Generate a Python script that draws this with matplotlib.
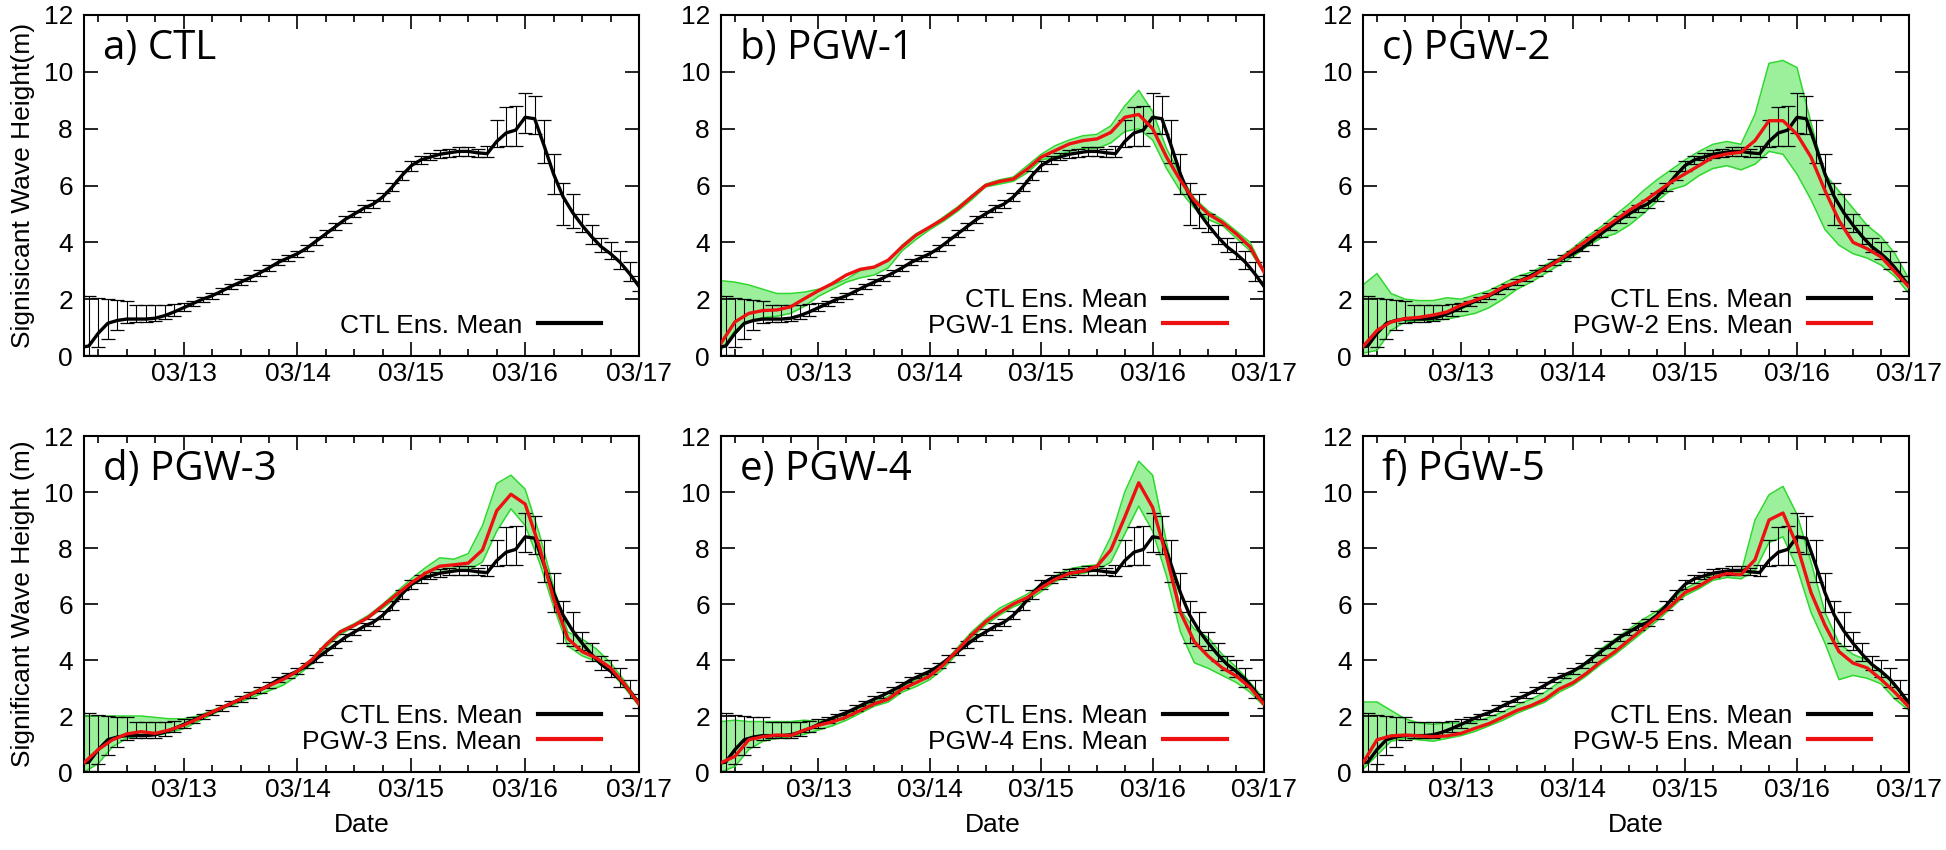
import matplotlib
matplotlib.use("Agg")
import matplotlib.pyplot as plt
from matplotlib.lines import Line2D
import numpy as np

# ---------------- data ----------------
# hours since 03/12 00:00
ctl_hours = list(range(2, 121, 2))
ctl_mean = [0.30, 0.35, 0.80, 1.15, 1.25, 1.30, 1.30, 1.30, 1.33, 1.42,
            1.55, 1.70, 1.85, 2.00, 2.12, 2.28, 2.45, 2.60, 2.75, 2.92,
            3.10, 3.30, 3.45, 3.60, 3.80, 4.05, 4.30, 4.55, 4.80, 5.00,
            5.20, 5.35, 5.60, 5.95, 6.35, 6.70, 6.90, 7.00, 7.10, 7.15,
            7.20, 7.20, 7.15, 7.12, 7.55, 7.85, 7.95, 8.40, 8.35, 7.40,
            6.40, 5.60, 5.05, 4.60, 4.20, 3.85, 3.60, 3.30, 2.90, 2.45]
ctl_low = [0.00, 0.05, 0.30, 0.60, 0.90, 1.15, 1.20, 1.20, 1.22, 1.30,
           1.42, 1.58, 1.75, 1.90, 2.02, 2.18, 2.35, 2.50, 2.65, 2.82,
           3.00, 3.20, 3.35, 3.50, 3.70, 3.92, 4.18, 4.42, 4.68, 4.88,
           5.08, 5.22, 5.45, 5.80, 6.18, 6.52, 6.75, 6.88, 6.98, 7.02,
           7.05, 7.05, 7.02, 7.00, 7.35, 7.40, 7.40, 7.85, 7.80, 6.80,
           5.70, 4.60, 4.50, 4.35, 3.95, 3.65, 3.40, 3.05, 2.65, 2.30]
ctl_high = [2.10, 2.10, 2.05, 2.00, 1.98, 1.95, 1.80, 1.80, 1.80, 1.80,
            1.82, 1.88, 1.95, 2.08, 2.22, 2.38, 2.55, 2.70, 2.85, 3.02,
            3.20, 3.40, 3.55, 3.70, 3.90, 4.18, 4.42, 4.68, 4.92, 5.12,
            5.32, 5.48, 5.75, 6.10, 6.50, 6.85, 7.05, 7.15, 7.25, 7.30,
            7.35, 7.35, 7.30, 7.40, 8.30, 8.75, 8.80, 9.25, 9.15, 8.30,
            7.10, 6.10, 5.70, 5.00, 4.60, 4.15, 4.00, 3.70, 3.30, 2.80]

pgw_hours = list(range(3, 121, 3))
pgw1_mean = [0.45, 1.20, 1.50, 1.60, 1.62, 1.73, 2.02, 2.30, 2.55, 2.85,
             3.05, 3.13, 3.37, 3.84, 4.25, 4.54, 4.83, 5.18, 5.60, 6.00,
             6.14, 6.23, 6.58, 7.00, 7.23, 7.46, 7.58, 7.64, 7.87, 8.40,
             8.50, 8.00, 7.00, 6.18, 5.47, 5.00, 4.70, 4.30, 3.84, 2.96]
pgw1_low = [0.20, 0.90, 1.20, 1.35, 1.40, 1.50, 1.75, 2.10, 2.35, 2.60,
            2.75, 2.85, 3.10, 3.70, 4.10, 4.45, 4.75, 5.10, 5.50, 5.95,
            6.05, 6.15, 6.45, 6.90, 7.00, 7.20, 7.30, 7.30, 7.50, 7.90,
            8.00, 7.60, 6.60, 5.80, 5.20, 4.80, 4.60, 4.15, 3.70, 2.90]
pgw1_high = [2.65, 2.60, 2.50, 2.35, 2.20, 2.20, 2.25, 2.35, 2.50, 2.70,
             3.00, 3.10, 3.35, 3.90, 4.30, 4.55, 4.90, 5.25, 5.65, 6.05,
             6.20, 6.30, 6.70, 7.10, 7.40, 7.60, 7.75, 7.80, 8.10, 8.80,
             9.35, 8.60, 7.30, 6.35, 5.55, 5.10, 4.80, 4.40, 4.00, 3.00]

pgw2_mean = [0.33, 0.90, 1.20, 1.32, 1.36, 1.44, 1.55, 1.79, 1.96, 2.14,
             2.43, 2.60, 2.78, 3.08, 3.37, 3.72, 4.07, 4.42, 4.77, 5.12,
             5.42, 5.77, 6.12, 6.41, 6.70, 7.00, 7.11, 7.17, 7.58, 8.28,
             8.28, 7.80, 7.00, 5.82, 4.77, 4.00, 3.78, 3.49, 2.96, 2.43]
pgw2_low = [0.10, 0.20, 0.90, 1.20, 1.25, 1.25, 1.30, 1.40, 1.50, 1.70,
            2.00, 2.35, 2.60, 2.90, 3.20, 3.50, 3.85, 4.15, 4.30, 4.60,
            5.00, 5.45, 5.85, 6.00, 6.35, 6.60, 6.70, 6.55, 6.75, 7.20,
            7.10, 6.40, 5.50, 4.45, 3.90, 3.60, 3.45, 3.20, 2.80, 2.20]
pgw2_high = [2.50, 2.90, 2.20, 2.00, 1.95, 1.95, 2.05, 2.00, 2.15, 2.30,
             2.55, 2.80, 2.95, 3.20, 3.45, 3.80, 4.20, 4.55, 4.95, 5.35,
             5.80, 6.20, 6.55, 6.90, 7.20, 7.45, 7.55, 7.45, 8.50, 10.30,
             10.40, 10.15, 8.20, 6.40, 5.80, 5.20, 4.60, 4.20, 3.60, 2.70]

pgw3_mean = [0.33, 0.80, 1.15, 1.36, 1.44, 1.38, 1.50, 1.67, 1.90, 2.14,
             2.37, 2.60, 2.84, 3.08, 3.31, 3.60, 4.00, 4.54, 5.00, 5.24,
             5.53, 5.94, 6.35, 6.76, 7.10, 7.35, 7.40, 7.46, 7.93, 9.33,
             9.92, 9.57, 8.05, 6.18, 4.77, 4.30, 4.07, 3.72, 3.13, 2.43]
pgw3_low = [0.00, 0.30, 0.90, 1.20, 1.30, 1.30, 1.40, 1.55, 1.80, 2.05,
            2.30, 2.50, 2.70, 2.90, 3.10, 3.45, 3.85, 4.45, 4.90, 5.20,
            5.50, 5.85, 6.25, 6.65, 6.95, 7.10, 7.20, 7.20, 7.50, 8.60,
            9.40, 8.80, 7.50, 5.90, 4.50, 4.15, 3.95, 3.60, 3.00, 2.35]
pgw3_high = [2.00, 2.00, 2.00, 2.00, 2.00, 1.95, 1.90, 1.90, 2.00, 2.20,
             2.40, 2.65, 2.90, 3.10, 3.35, 3.65, 4.05, 4.60, 5.05, 5.30,
             5.60, 6.00, 6.45, 6.90, 7.30, 7.65, 7.60, 7.80, 8.80, 10.30,
             10.60, 10.10, 8.50, 6.60, 5.00, 4.75, 4.40, 3.90, 3.25, 2.50]

pgw4_mean = [0.33, 0.56, 1.15, 1.26, 1.32, 1.30, 1.50, 1.67, 1.79, 1.96,
             2.20, 2.43, 2.60, 2.96, 3.19, 3.43, 3.84, 4.36, 4.89, 5.36,
             5.70, 6.00, 6.23, 6.58, 6.88, 7.09, 7.17, 7.35, 7.93, 9.10,
             10.33, 9.45, 7.70, 5.70, 4.65, 4.13, 3.72, 3.43, 3.02, 2.43]
pgw4_low = [0.00, 0.20, 0.80, 1.10, 1.20, 1.25, 1.35, 1.50, 1.65, 1.85,
            2.10, 2.35, 2.50, 2.85, 3.05, 3.30, 3.70, 4.25, 4.80, 5.25,
            5.60, 5.90, 6.10, 6.45, 6.80, 7.00, 7.10, 7.20, 7.50, 8.50,
            9.50, 8.60, 7.00, 5.00, 3.90, 3.70, 3.45, 3.20, 2.85, 2.35]
pgw4_high = [1.80, 1.85, 1.80, 1.80, 1.80, 1.80, 1.85, 1.80, 1.90, 2.05,
             2.30, 2.50, 2.70, 3.05, 3.30, 3.50, 3.90, 4.45, 5.00, 5.45,
             5.85, 6.10, 6.35, 6.70, 7.00, 7.25, 7.35, 7.40, 8.40, 10.00,
             11.10, 10.60, 8.20, 5.80, 5.10, 4.80, 4.20, 3.75, 3.20, 2.60]

pgw5_mean = [0.33, 1.15, 1.29, 1.32, 1.29, 1.26, 1.29, 1.38, 1.56, 1.73,
             1.96, 2.20, 2.37, 2.60, 2.96, 3.19, 3.54, 3.95, 4.30, 4.71,
             5.12, 5.53, 5.94, 6.41, 6.64, 6.94, 7.09, 7.05, 7.58, 9.00,
             9.25, 8.10, 6.41, 5.24, 4.30, 3.89, 3.72, 3.31, 2.84, 2.32]
pgw5_low = [0.10, 0.60, 1.10, 1.20, 1.15, 1.10, 1.20, 1.30, 1.45, 1.65,
            1.85, 2.10, 2.30, 2.50, 2.85, 3.10, 3.45, 3.85, 4.20, 4.60,
            5.00, 5.40, 5.85, 6.30, 6.55, 6.85, 6.95, 6.90, 7.20, 8.20,
            8.40, 7.30, 5.70, 4.60, 3.30, 3.45, 3.35, 3.15, 2.60, 2.20]
pgw5_high = [2.50, 2.50, 2.20, 1.90, 1.75, 1.70, 1.75, 1.75, 1.80, 1.95,
             2.15, 2.40, 2.60, 2.85, 3.20, 3.55, 3.95, 4.40, 4.75, 5.10,
             5.45, 5.75, 6.10, 6.55, 6.80, 7.05, 7.20, 7.10, 9.00, 9.90,
             10.20, 9.20, 7.50, 5.70, 4.60, 4.20, 4.00, 3.60, 3.10, 2.40]

panel_titles = ["a) CTL", "b) PGW-1", "c) PGW-2", "d) PGW-3", "e) PGW-4", "f) PGW-5"]
pgw_names = [None, "PGW-1", "PGW-2", "PGW-3", "PGW-4", "PGW-5"]
pgw_means = [None, pgw1_mean, pgw2_mean, pgw3_mean, pgw4_mean, pgw5_mean]
pgw_lows = [None, pgw1_low, pgw2_low, pgw3_low, pgw4_low, pgw5_low]
pgw_highs = [None, pgw1_high, pgw2_high, pgw3_high, pgw4_high, pgw5_high]
xtick_hours = [24, 48, 72, 96, 120]
xtick_labels = ["03/13", "03/14", "03/15", "03/16", "03/17"]
yticks = [0, 2, 4, 6, 8, 10, 12]
row_ylabels = ["Signisicant Wave Height(m)", "Significant Wave Height (m)"]

# ---------------- layout ----------------
W, H = 1946, 850
plt.rcParams['font.family'] = ['Liberation Sans Narrow', 'Liberation Sans', 'DejaVu Sans']
fig = plt.figure(figsize=(W / 100, H / 100), dpi=100)

col_left = [84, 721, 1363]
col_width = [555, 543, 546]
row_top = [15, 436]
row_bot = [356, 772]

green_fill = '#9cf09c'
green_edge = '#2ed82e'

for i in range(6):
    r, c = divmod(i, 3)
    ax = fig.add_axes([col_left[c] / W, 1 - row_bot[r] / H,
                       col_width[c] / W, (row_bot[r] - row_top[r]) / H])
    handles = []
    labels = []
    if pgw_means[i] is not None:
        ax.fill_between(pgw_hours, pgw_lows[i], pgw_highs[i], color=green_fill,
                        lw=0, zorder=1)
        ax.plot(pgw_hours, pgw_lows[i], color=green_edge, lw=1.1, zorder=2)
        ax.plot(pgw_hours, pgw_highs[i], color=green_edge, lw=1.1, zorder=2)
    # CTL error bars
    ax.vlines(ctl_hours, ctl_low, ctl_high, colors='black', lw=0.8, zorder=3)
    ax.plot(ctl_hours, ctl_low, ls='none', marker='_', ms=10, mew=0.9, color='black', zorder=3)
    ax.plot(ctl_hours, ctl_high, ls='none', marker='_', ms=10, mew=0.9, color='black', zorder=3)
    ax.plot(ctl_hours, ctl_mean, color='black', lw=2.4, zorder=4)
    handles.append(Line2D([], [], color='black', lw=3))
    labels.append("CTL Ens. Mean")
    if pgw_means[i] is not None:
        ax.plot(pgw_hours, pgw_means[i], color='#ee1111', lw=2.4, zorder=5)
        handles.append(Line2D([], [], color='#ee1111', lw=3))
        labels.append(pgw_names[i] + " Ens. Mean")

    ax.set_xlim(3, 120)
    ax.set_ylim(0, 12)
    ax.set_xticks(xtick_hours)
    ax.set_xticklabels(xtick_labels)
    ax.set_xticks(list(range(6, 120, 6)), minor=True)
    ax.set_yticks(yticks)
    ax.tick_params(which='both', direction='in', top=True, right=True,
                   labelsize=19, width=1.2)
    ax.tick_params(which='major', length=10)
    ax.tick_params(which='minor', length=5)
    ax.tick_params(axis='x', pad=4)
    ax.tick_params(axis='y', pad=8)
    for sp in ax.spines.values():
        sp.set_linewidth(1.5)

    ax.text(0.035, 0.9, panel_titles[i], transform=ax.transAxes,
            fontsize=29, family=['Open Sans', 'DejaVu Sans'], va='center', ha='left')
    ax.legend(handles, labels, loc='lower right', bbox_to_anchor=(0.965, 0.0),
              markerfirst=False, frameon=False, fontsize=19, handlelength=2.4,
              handletextpad=0.6, labelspacing=0.05, borderaxespad=0.3)
    if c == 0:
        ax.set_ylabel(row_ylabels[r], fontsize=19, labelpad=6)
    if r == 1:
        ax.set_xlabel("Date", fontsize=19, labelpad=8)

fig.savefig("out.png", dpi=100)
